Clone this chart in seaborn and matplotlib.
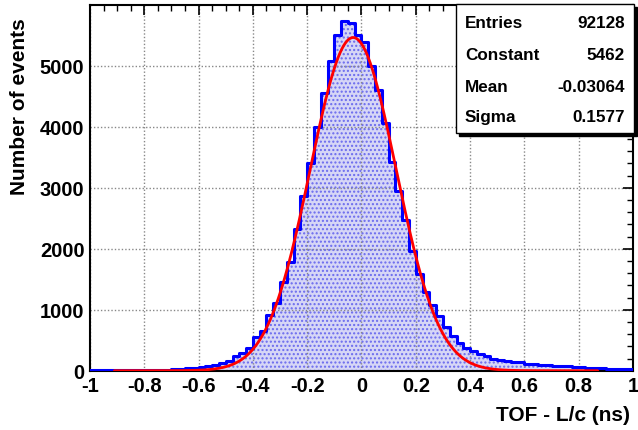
import numpy as np
import pandas as pd
import matplotlib
matplotlib.use("Agg")
import matplotlib.pyplot as plt
from matplotlib.patches import Rectangle
from matplotlib.ticker import MultipleLocator
import seaborn as sns

# ---------------- data ----------------
bin_lo, bin_hi, n_bins = -1.0, 1.0, 80
counts = [5, 5, 5, 6, 6, 7, 8, 8, 10, 11,
          12, 15, 22, 30, 40, 50, 62, 78, 95, 120,
          164, 240, 290, 366, 546, 656, 913, 1109, 1448, 1776,
          2322, 2858, 3399, 4000, 4560, 5080, 5510, 5730, 5700, 5510,
          5390, 4990, 4607, 4060, 3426, 2940, 2475, 1967, 1585, 1284,
          1077, 896, 710, 563, 454, 372, 317, 273, 246, 191,
          175, 164, 137, 137, 109, 105, 95, 88, 82, 80,
          72, 65, 60, 52, 45, 40, 35, 30, 25, 22]

fit_constant = 5462
fit_mean = -0.03064
fit_sigma = 0.1577
fit_range = (-0.91, 0.87)

stat_names = ["Entries", "Constant", "Mean", "Sigma"]
stat_values = ["92128", "5462", "-0.03064", "0.1577"]

x_ticks = [-1, -0.8, -0.6, -0.4, -0.2, 0, 0.2, 0.4, 0.6, 0.8, 1]
x_ticklabels = ["-1", "-0.8", "-0.6", "-0.4", "-0.2", "0", "0.2", "0.4", "0.6", "0.8", "1"]
y_ticks = [0, 1000, 2000, 3000, 4000, 5000]
y_ticklabels = ["0", "1000", "2000", "3000", "4000", "5000"]

x_label = "TOF - L/c (ns)"
y_label = "Number of events"

# ---------------- style ----------------
sns.set_style("white")
plt.rcParams["font.family"] = ["Liberation Sans", "DejaVu Sans"]
plt.rcParams["font.weight"] = "bold"
plt.rcParams["text.color"] = "black"
plt.rcParams["axes.labelcolor"] = "black"
plt.rcParams["xtick.color"] = "black"
plt.rcParams["ytick.color"] = "black"
plt.rcParams["hatch.linewidth"] = 1.0

edges = list(np.linspace(bin_lo, bin_hi, n_bins + 1))
centers = [0.5 * (a + b) for a, b in zip(edges[:-1], edges[1:])]
df = pd.DataFrame({"x": centers, "w": counts})

fig = plt.figure(figsize=(6.38, 4.31), dpi=100)
W, H = 638, 431
ax = fig.add_axes([90 / W, 1 - 371.7 / H, (633 - 90) / W, (371.7 - 5.7) / H])

# filled histogram (dotted pattern)
sns.histplot(data=df, x="x", weights="w", bins=edges, element="step", fill=True,
             facecolor="#d6d6f6", edgecolor="#6a6aee", linewidth=0, alpha=1,
             ax=ax, zorder=1)
for coll in ax.collections:
    coll.set_hatch("....")
    coll.set_linewidth(0)

# histogram outline
sns.histplot(data=df, x="x", weights="w", bins=edges, element="step", fill=False,
             color="#0000ff", linewidth=2.2, ax=ax, zorder=3)

# Gaussian fit curve
fx = np.linspace(fit_range[0], fit_range[1], 600)
fy = fit_constant * np.exp(-0.5 * ((fx - fit_mean) / fit_sigma) ** 2)
sns.lineplot(x=fx, y=fy, color="#ff0000", linewidth=2.0, ax=ax, zorder=4)

ax.set_xlim(-1, 1)
ax.set_ylim(0, 6000)

ax.set_xticks(x_ticks)
ax.set_xticklabels(x_ticklabels)
ax.set_yticks(y_ticks)
ax.set_yticklabels(y_ticklabels)
ax.xaxis.set_minor_locator(MultipleLocator(0.05))
ax.yaxis.set_minor_locator(MultipleLocator(200))

ax.tick_params(axis="both", which="major", direction="in", length=7, width=1.2,
               top=True, right=True, labelsize=14.5, colors="black", pad=4)
ax.tick_params(axis="both", which="minor", direction="in", length=4, width=1.0,
               top=True, right=True)
for lab in ax.get_xticklabels() + ax.get_yticklabels():
    lab.set_fontweight("bold")
    lab.set_color("black")

ax.set_axisbelow("line")
ax.grid(True, which="major", linestyle=(0, (1, 1.5)), color="#888888", linewidth=1.0)

for sp in ax.spines.values():
    sp.set_visible(True)
    sp.set_color("black")
    sp.set_linewidth(1.5)

ax.set_xlabel(x_label, loc="right", fontsize=15, fontweight="bold", labelpad=7,
              color="black")
ax.set_ylabel(y_label, loc="top", fontsize=15, fontweight="bold", labelpad=8,
              color="black")
ax.xaxis.label.set_x(0.994)
ax.yaxis.label.set_y(0.965)

# stats box
bx0, bx1, by0, by1 = 456, 634, 5, 134
sh = 3
fig.patches.append(Rectangle(((bx0 + sh) / W, 1 - (by1 + sh) / H), (bx1 - bx0) / W,
                             (by1 - by0) / H, transform=fig.transFigure,
                             facecolor="black", edgecolor="black", zorder=10))
fig.patches.append(Rectangle((bx0 / W, 1 - by1 / H), (bx1 - bx0) / W, (by1 - by0) / H,
                             transform=fig.transFigure, facecolor="white",
                             edgecolor="black", linewidth=1.0, zorder=11))
row_y = [24, 55, 87, 118]
for name, val, ry in zip(stat_names, stat_values, row_y):
    fig.text(465 / W, 1 - ry / H, name, ha="left", va="center", fontsize=12.3,
             fontweight="bold", zorder=12, color="black")
    fig.text(625 / W, 1 - ry / H, val, ha="right", va="center", fontsize=12.3,
             fontweight="bold", zorder=12, color="black")

fig.savefig("out.png", dpi=100)
